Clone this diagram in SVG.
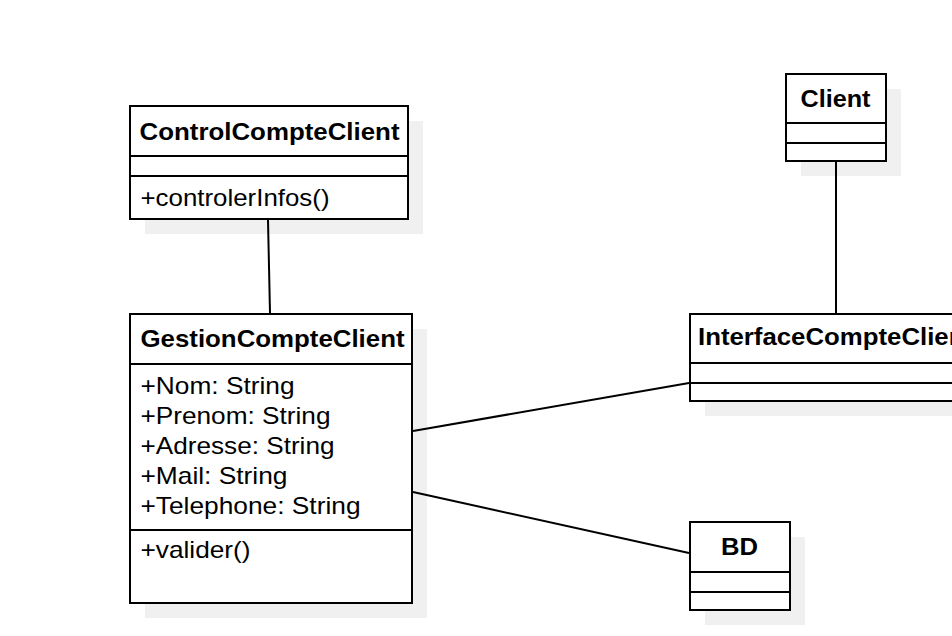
<svg xmlns="http://www.w3.org/2000/svg" width="952" height="636" viewBox="0 0 952 636">
<style>
.sh{fill:#f0f0f0;stroke:none}
.bx{fill:#ffffff;stroke:#000000;stroke-width:2}
.ln{stroke:#000000;stroke-width:2;fill:none}
.t{font-family:"Liberation Sans",Arial,sans-serif;font-size:24px;fill:#000000}
.b{font-weight:bold}
</style>
<rect width="952" height="636" fill="#ffffff"/>
<g id="ControlCompteClient">
<rect class="sh" x="145" y="121" width="278" height="113"/>
<rect class="bx" x="130" y="106" width="278" height="113"/>
<line class="ln" x1="130" y1="156" x2="408" y2="156"/>
<line class="ln" x1="130" y1="176" x2="408" y2="176"/>
<text class="t b" x="139.5" y="140" textLength="260" lengthAdjust="spacingAndGlyphs">ControlCompteClient</text>
<text class="t" x="140.5" y="206" textLength="189" lengthAdjust="spacingAndGlyphs">+controlerInfos()</text>
</g>
<g id="GestionCompteClient">
<rect class="sh" x="145" y="329" width="282" height="289"/>
<rect class="bx" x="130" y="314" width="282" height="289"/>
<line class="ln" x1="130" y1="364" x2="412" y2="364"/>
<line class="ln" x1="130" y1="530" x2="412" y2="530"/>
<text class="t b" x="140.5" y="347" textLength="264" lengthAdjust="spacingAndGlyphs">GestionCompteClient</text>
<text class="t" x="140.5" y="394" textLength="154" lengthAdjust="spacingAndGlyphs">+Nom: String</text>
<text class="t" x="140.5" y="424" textLength="190" lengthAdjust="spacingAndGlyphs">+Prenom: String</text>
<text class="t" x="140.5" y="454" textLength="194" lengthAdjust="spacingAndGlyphs">+Adresse: String</text>
<text class="t" x="140.5" y="484" textLength="147" lengthAdjust="spacingAndGlyphs">+Mail: String</text>
<text class="t" x="140.5" y="514" textLength="220" lengthAdjust="spacingAndGlyphs">+Telephone: String</text>
<text class="t" x="140.5" y="558" textLength="110" lengthAdjust="spacingAndGlyphs">+valider()</text>
</g>
<g id="InterfaceCompteClient">
<rect class="sh" x="705" y="329" width="300" height="87"/>
<rect class="bx" x="690" y="314" width="300" height="87"/>
<line class="ln" x1="690" y1="363" x2="990" y2="363"/>
<line class="ln" x1="690" y1="383" x2="990" y2="383"/>
<text class="t b" x="698" y="345" textLength="275" lengthAdjust="spacingAndGlyphs">InterfaceCompteClient</text>
</g>
<g id="Client">
<rect class="sh" x="801" y="89" width="100" height="87"/>
<rect class="bx" x="786" y="74" width="100" height="87"/>
<line class="ln" x1="786" y1="123" x2="886" y2="123"/>
<line class="ln" x1="786" y1="143" x2="886" y2="143"/>
<text class="t b" x="800.5" y="107" textLength="70" lengthAdjust="spacingAndGlyphs">Client</text>
</g>
<g id="BD">
<rect class="sh" x="705" y="537" width="100" height="88"/>
<rect class="bx" x="690" y="522" width="100" height="88"/>
<line class="ln" x1="690" y1="572" x2="790" y2="572"/>
<line class="ln" x1="690" y1="592" x2="790" y2="592"/>
<text class="t b" x="721" y="555" textLength="37" lengthAdjust="spacingAndGlyphs">BD</text>
</g>
<g id="connectors">
<line class="ln" x1="268" y1="220" x2="270" y2="313"/>
<line class="ln" x1="836" y1="162" x2="836" y2="313"/>
<line class="ln" x1="413" y1="431" x2="689" y2="383"/>
<line class="ln" x1="413" y1="492" x2="689" y2="553"/>
</g>
</svg>
